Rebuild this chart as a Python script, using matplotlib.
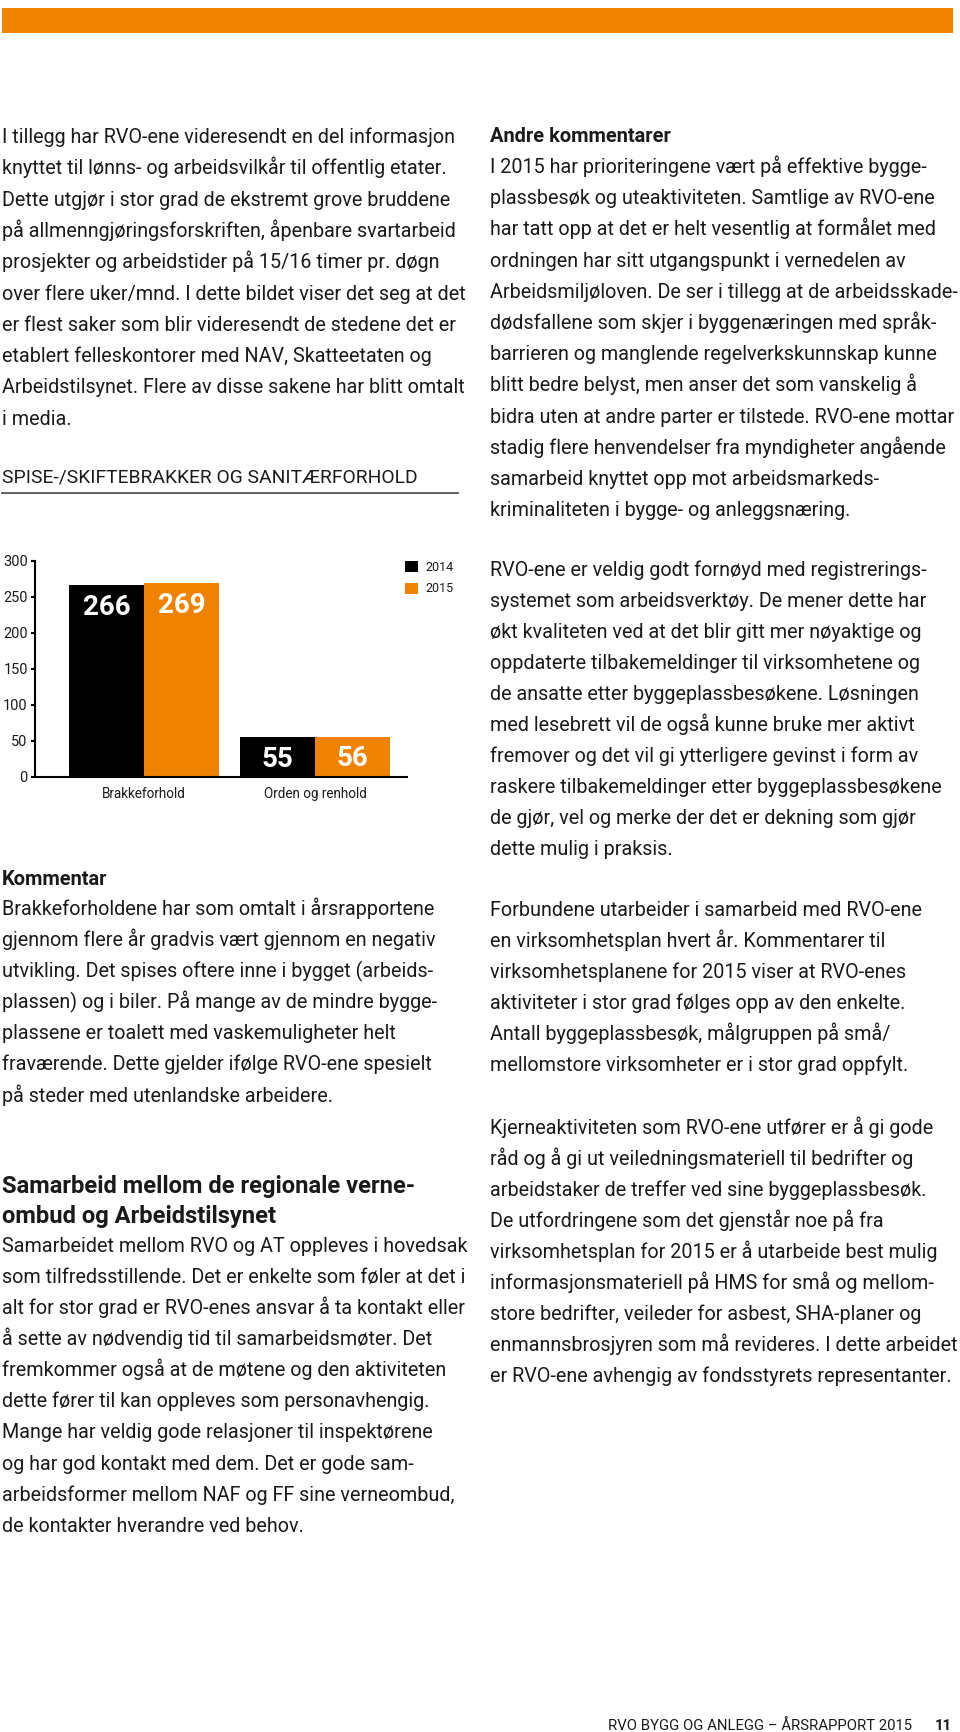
import numpy as np
import matplotlib
matplotlib.use("Agg")
import matplotlib.pyplot as plt
from matplotlib import font_manager
from matplotlib.font_manager import FontProperties
from matplotlib.textpath import TextPath
from matplotlib.patches import Rectangle

# chart data
categories = ["Brakkeforhold", "Orden og renhold"]
years = ["2014", "2015"]
values_2014 = [266, 55]
values_2015 = [269, 56]
yticks = [0, 50, 100, 150, 200, 250, 300]

ORANGE = "#EF8200"
INK = "#1a1a1a"

names = {f.name for f in font_manager.fontManager.ttflist}
FONT = "Liberation Sans Narrow" if "Liberation Sans Narrow" in names else "Roboto"


def fit(text, px, weight="normal"):
    # font size (pt at dpi 100) that gives the text an ink width of px pixels
    tp = TextPath((0, 0), text, size=100, prop=FontProperties(family=FONT, weight=weight))
    return 72 * px / tp.get_extents().width


left_top = [
    "I tillegg har RVO-ene videresendt en del informasjon",
    "knyttet til lønns- og arbeidsvilkår til offentlig etater.",
    "Dette utgjør i stor grad de ekstremt grove bruddene",
    "på allmenngjøringsforskriften, åpenbare svartarbeid",
    "prosjekter og arbeidstider på 15/16 timer pr. døgn",
    "over flere uker/mnd. I dette bildet viser det seg at det",
    "er flest saker som blir videresendt de stedene det er",
    "etablert felleskontorer med NAV, Skatteetaten og",
    "Arbeidstilsynet. Flere av disse sakene har blitt omtalt",
    "i media.",
]
kommentar = [
    "Brakkeforholdene har som omtalt i årsrapportene",
    "gjennom flere år gradvis vært gjennom en negativ",
    "utvikling. Det spises oftere inne i bygget (arbeids-",
    "plassen) og i biler. På mange av de mindre bygge-",
    "plassene er toalett med vaskemuligheter helt",
    "fraværende. Dette gjelder ifølge RVO-ene spesielt",
    "på steder med utenlandske arbeidere.",
]
samarbeid_head = [
    "Samarbeid mellom de regionale verne-",
    "ombud og Arbeidstilsynet",
]
samarbeid = [
    "Samarbeidet mellom RVO og AT oppleves i hovedsak",
    "som tilfredsstillende. Det er enkelte som føler at det i",
    "alt for stor grad er RVO-enes ansvar å ta kontakt eller",
    "å sette av nødvendig tid til samarbeidsmøter. Det",
    "fremkommer også at de møtene og den aktiviteten",
    "dette fører til kan oppleves som personavhengig.",
    "Mange har veldig gode relasjoner til inspektørene",
    "og har god kontakt med dem. Det er gode sam-",
    "arbeidsformer mellom NAF og FF sine verneombud,",
    "de kontakter hverandre ved behov.",
]
right_1 = [
    "I 2015 har prioriteringene vært på effektive bygge-",
    "plassbesøk og uteaktiviteten. Samtlige av RVO-ene",
    "har tatt opp at det er helt vesentlig at formålet med",
    "ordningen har sitt utgangspunkt i vernedelen av",
    "Arbeidsmiljøloven. De ser i tillegg at de arbeidsskade-",
    "dødsfallene som skjer i byggenæringen med språk-",
    "barrieren og manglende regelverkskunnskap kunne",
    "blitt bedre belyst, men anser det som vanskelig å",
    "bidra uten at andre parter er tilstede. RVO-ene mottar",
    "stadig flere henvendelser fra myndigheter angående",
    "samarbeid knyttet opp mot arbeidsmarkeds-",
    "kriminaliteten i bygge- og anleggsnæring.",
]
right_2 = [
    "RVO-ene er veldig godt fornøyd med registrerings-",
    "systemet som arbeidsverktøy. De mener dette har",
    "økt kvaliteten ved at det blir gitt mer nøyaktige og",
    "oppdaterte tilbakemeldinger til virksomhetene og",
    "de ansatte etter byggeplassbesøkene. Løsningen",
    "med lesebrett vil de også kunne bruke mer aktivt",
    "fremover og det vil gi ytterligere gevinst i form av",
    "raskere tilbakemeldinger etter byggeplassbesøkene",
    "de gjør, vel og merke der det er dekning som gjør",
    "dette mulig i praksis.",
]
right_3 = [
    "Forbundene utarbeider i samarbeid med RVO-ene",
    "en virksomhetsplan hvert år. Kommentarer til",
    "virksomhetsplanene for 2015 viser at RVO-enes",
    "aktiviteter i stor grad følges opp av den enkelte.",
    "Antall byggeplassbesøk, målgruppen på små/",
    "mellomstore virksomheter er i stor grad oppfylt.",
]
right_4 = [
    "Kjerneaktiviteten som RVO-ene utfører er å gi gode",
    "råd og å gi ut veiledningsmateriell til bedrifter og",
    "arbeidstaker de treffer ved sine byggeplassbesøk.",
    "De utfordringene som det gjenstår noe på fra",
    "virksomhetsplan for 2015 er å utarbeide best mulig",
    "informasjonsmateriell på HMS for små og mellom-",
    "store bedrifter, veileder for asbest, SHA-planer og",
    "enmannsbrosjyren som må revideres. I dette arbeidet",
    "er RVO-ene avhengig av fondsstyrets representanter.",
]

BODY = fit(left_top[0], 449.6)
SUB = fit("Andre kommentarer", 180, "bold")
HEAD = fit(samarbeid_head[0], 412, "bold")
CAPS = fit("SPISE-/SKIFTEBRAKKER OG SANITÆRFORHOLD", 415)
FOOT = fit("RVO BYGG OG ANLEGG – ÅRSRAPPORT 2015", 302)
TICK = fit("300", 23)
CAT = fit(categories[1], 101.7)
VAL = fit("266", 45.7, "bold")
LEG = fit("2014", 27.3)

fig = plt.figure(figsize=(9.6, 17.32), dpi=100)
page = fig.add_axes([0, 0, 1, 1])
page.set_xlim(0, 960)
page.set_ylim(1732, 0)
page.axis("off")


def block(lines, x, y0, size, weight="normal", step=31.1):
    for i, line in enumerate(lines):
        page.text(x, y0 + i * step, line, fontsize=size, fontweight=weight,
                  family=FONT, color=INK, va="baseline", ha="left")


# orange band on top
page.add_patch(Rectangle((2, 7.5), 951, 25, color=ORANGE, lw=0))

# left column
block(left_top, 1.5, 143, BODY, step=31.3)
block(["SPISE-/SKIFTEBRAKKER OG SANITÆRFORHOLD"], 1.5, 483, CAPS)
page.plot([2, 458], [492.5, 492.5], color="#555555", lw=1.3)
block(["Kommentar"], 1.5, 885, SUB, "bold")
block(kommentar, 1.5, 915, BODY)
block(samarbeid_head, 1.5, 1193, HEAD, "bold", step=30)
block(samarbeid, 1.5, 1251.5, BODY, step=31.15)

# right column
block(["Andre kommentarer"], 490, 141.7, SUB, "bold")
block(right_1, 490, 173, BODY, step=31.2)
block(right_2, 490, 575.5, BODY, step=31.05)
block(right_3, 490, 915.5, BODY, step=31.15)
block(right_4, 490, 1134, BODY, step=30.95)

# footer
page.text(912, 1730, "RVO BYGG OG ANLEGG – ÅRSRAPPORT 2015", fontsize=FOOT,
          family=FONT, color=INK, va="baseline", ha="right")
page.text(952, 1730, "11", fontsize=FOOT, fontweight="bold",
          family=FONT, color=INK, va="baseline", ha="right")

# bar chart
ax = fig.add_axes([35 / 960, 1 - 777 / 1732, 372 / 960, 216 / 1732])
x = np.arange(len(categories))
w = 75 / 171
b1 = ax.bar(x - w / 2, values_2014, w, color="black", label=years[0])
b2 = ax.bar(x + w / 2, values_2015, w, color=ORANGE, label=years[1])
for bars, vals in ((b1, values_2014), (b2, values_2015)):
    for rect, v in zip(bars, vals):
        ax.annotate(str(v), (rect.get_x() + rect.get_width() / 2, v),
                    xytext=(0, -22), textcoords="offset pixels",
                    ha="center", va="center", color="white",
                    fontsize=VAL, fontweight="bold", family=FONT)

ax.set_xlim(-109 / 171, 263 / 171)
ax.set_ylim(0, 300)
ax.set_yticks(yticks)
ax.set_xticks(x)
ax.set_xticklabels(categories, family=FONT, fontsize=CAT, color=INK)
ax.set_yticklabels([str(t) for t in yticks], family=FONT, fontsize=TICK, color=INK)
ax.tick_params(axis="y", direction="out", length=3, width=1.5, pad=2.2)
ax.tick_params(axis="x", length=0, pad=7.5)
for s in ("top", "right"):
    ax.spines[s].set_visible(False)
for s in ("left", "bottom"):
    ax.spines[s].set_linewidth(1.5)
ax.patch.set_alpha(0)

leg_px = LEG * 100 / 72
ax.legend(loc="upper left", bbox_to_anchor=(405 / 960, 1 - 560.7 / 1732),
          bbox_transform=fig.transFigure, frameon=False, borderpad=0,
          borderaxespad=0, prop=FontProperties(family=FONT, size=LEG),
          handlelength=12.6 / leg_px, handleheight=12.6 / leg_px,
          handletextpad=7.4 / leg_px, labelspacing=(20.5 - 0.94 * leg_px) / leg_px,
          labelcolor=INK)

fig.savefig("out.png", dpi=100)
